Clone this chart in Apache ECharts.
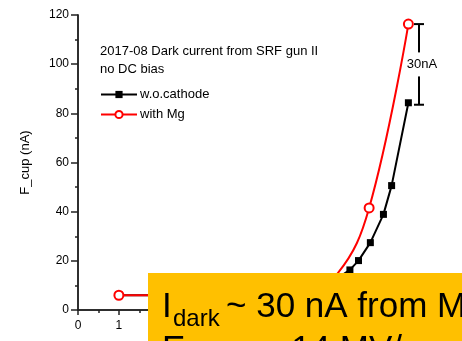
<!DOCTYPE html>
<html>
<head>
<meta charset="utf-8">
<script src="https://cdn.jsdelivr.net/npm/echarts@6/dist/echarts.min.js"></script>
<style>
  html, body { margin: 0; padding: 0; background: #fff; }
  #chart { width: 462px; height: 341px; }
</style>
</head>
<body>
<div id="chart"></div>
<script>
const FONT = 'Liberation Sans, Arial, sans-serif'

// data (points under the yellow box are estimates)
const woCathode = [[1, 6], [3, 6], [5, 6.5], [6, 9.5], [6.35, 13], [6.65, 16.3], [6.86, 20.1], [7.15, 27.4], [7.47, 38.9], [7.67, 50.6], [8.08, 84.3]]
// red trace; circles only at mgMarkers
const withMg = [[1, 6], [4, 6], [5.5, 8], [6.35, 14.9], [7.12, 41.5], [8.08, 116.3]]
const mgMarkers = [1, 7.12, 8.08]
const errBar = [[8.34, 83.5, 116.3]]
const errLabel = '30nA'
const seriesNames = ['w.o.cathode', 'with Mg']
const titleLines = ['2017-08 Dark current from SRF gun II', 'no DC bias']

const chart = echarts.init(document.getElementById('chart'))

const axisLine = { show: true, lineStyle: { color: '#222', width: 1.5 } }
const tickStyle = { color: '#222', width: 1.5 }

const mgData = withMg.map(p => mgMarkers.includes(p[0]) ? { value: p } : { value: p, symbol: 'none' })

chart.setOption({
  animation: false,
  textStyle: { fontFamily: FONT },
  title: {
    text: titleLines.join('\n'),
    left: 100,
    top: 42,
    padding: 0,
    textStyle: { fontSize: 13, fontWeight: 'normal', color: '#000', lineHeight: 18, fontFamily: FONT }
  },
  legend: {
    data: seriesNames,
    orient: 'vertical',
    left: 100,
    top: 88,
    padding: 0,
    itemWidth: 36,
    itemHeight: 9,
    itemGap: 7,
    textStyle: { fontSize: 13, color: '#000', fontFamily: FONT, padding: [0, 0, 0, -2] }
  },
  grid: { left: 78, right: 16, top: 15, bottom: 31 },
  xAxis: [{
    type: 'value',
    min: 0,
    max: 9,
    interval: 1,
    axisLine: axisLine,
    axisTick: { show: true, length: 5, lineStyle: tickStyle },
    minorTick: { show: true, splitNumber: 2, length: 3, lineStyle: tickStyle },
    axisLabel: { fontSize: 12, color: '#000', margin: 10, fontFamily: FONT },
    splitLine: { show: false }
  }, {
    type: 'value',
    position: 'top',
    min: 0,
    max: 9,
    interval: 1,
    axisLine: axisLine,
    axisTick: { show: true, inside: true, length: 5, lineStyle: tickStyle },
    minorTick: { show: true, splitNumber: 2, length: 3, lineStyle: tickStyle },
    axisLabel: { show: false },
    splitLine: { show: false }
  }],
  yAxis: [{
    type: 'value',
    min: 0,
    max: 120,
    interval: 20,
    name: 'F_cup (nA)',
    nameLocation: 'middle',
    nameGap: 46,
    nameTextStyle: { fontSize: 13, color: '#000', fontFamily: FONT },
    axisLine: axisLine,
    axisTick: { show: true, length: 7, lineStyle: tickStyle },
    minorTick: { show: true, splitNumber: 2, length: 3, lineStyle: tickStyle },
    axisLabel: { fontSize: 12, color: '#000', margin: 9, fontFamily: FONT },
    splitLine: { show: false }
  }, {
    type: 'value',
    position: 'right',
    min: 0,
    max: 120,
    interval: 20,
    axisLine: axisLine,
    axisTick: { show: true, inside: true, length: 5, lineStyle: tickStyle },
    minorTick: { show: true, splitNumber: 2, length: 3, lineStyle: tickStyle },
    axisLabel: { show: false },
    splitLine: { show: false }
  }],
  series: [{
    name: seriesNames[0],
    type: 'line',
    data: woCathode,
    symbol: 'rect',
    symbolSize: 7,
    lineStyle: { color: '#000', width: 2 },
    itemStyle: { color: '#000' },
    z: 2
  }, {
    name: seriesNames[1],
    type: 'line',
    data: mgData,
    smooth: 0.4,
    symbol: 'circle',
    symbolSize: 9,
    showSymbol: true,
    lineStyle: { color: '#ff0000', width: 2 },
    itemStyle: { color: '#fff', borderColor: '#ff0000', borderWidth: 2 },
    z: 3
  }, {
    type: 'custom',
    data: errBar,
    encode: { x: 0, y: [1, 2] },
    silent: true,
    z: 4,
    renderItem (params, api) {
      const x = api.value(0)
      const bot = api.coord([x, api.value(1)])
      const top = api.coord([x, api.value(2)])
      const mid = (top[1] + bot[1]) / 2
      const st = { stroke: '#000', lineWidth: 2 }
      return {
        type: 'group',
        children: [
          { type: 'line', shape: { x1: top[0] - 5, y1: top[1], x2: top[0] + 5, y2: top[1] }, style: st },
          { type: 'line', shape: { x1: bot[0] - 5, y1: bot[1], x2: bot[0] + 5, y2: bot[1] }, style: st },
          { type: 'line', shape: { x1: top[0], y1: top[1], x2: top[0], y2: mid - 12 }, style: st },
          { type: 'line', shape: { x1: bot[0], y1: mid + 12, x2: bot[0], y2: bot[1] }, style: st },
          { type: 'text', style: { text: errLabel, x: top[0] + 3, y: mid, align: 'center', verticalAlign: 'middle', font: '13px ' + FONT, fill: '#000' } }
        ]
      }
    }
  }],
  graphic: [
    { type: 'rect', left: 148, top: 273, z: 100, shape: { width: 314, height: 68 }, style: { fill: '#ffc000' } },
    { type: 'text', x: 162, y: 307, z: 101, style: { text: 'I', font: '35px ' + FONT, fill: '#000', verticalAlign: 'middle' } },
    { type: 'text', x: 173, y: 319, z: 101, style: { text: 'dark', font: '24px ' + FONT, fill: '#000', verticalAlign: 'middle' } },
    { type: 'text', x: 226, y: 307, z: 101, style: { text: '~ 30 nA from Mg', font: '35px ' + FONT, fill: '#000', verticalAlign: 'middle' } },
    { type: 'text', x: 162, y: 350, z: 101, style: { text: 'E', font: '35px ' + FONT, fill: '#000', verticalAlign: 'middle' } },
    { type: 'text', x: 187, y: 362, z: 101, style: { text: 'cath', font: '24px ' + FONT, fill: '#000', verticalAlign: 'middle' } },
    { type: 'text', x: 261, y: 350, z: 101, style: { text: '~ 14 MV/m', font: '35px ' + FONT, fill: '#000', verticalAlign: 'middle' } }
  ]
})
</script>
</body>
</html>
